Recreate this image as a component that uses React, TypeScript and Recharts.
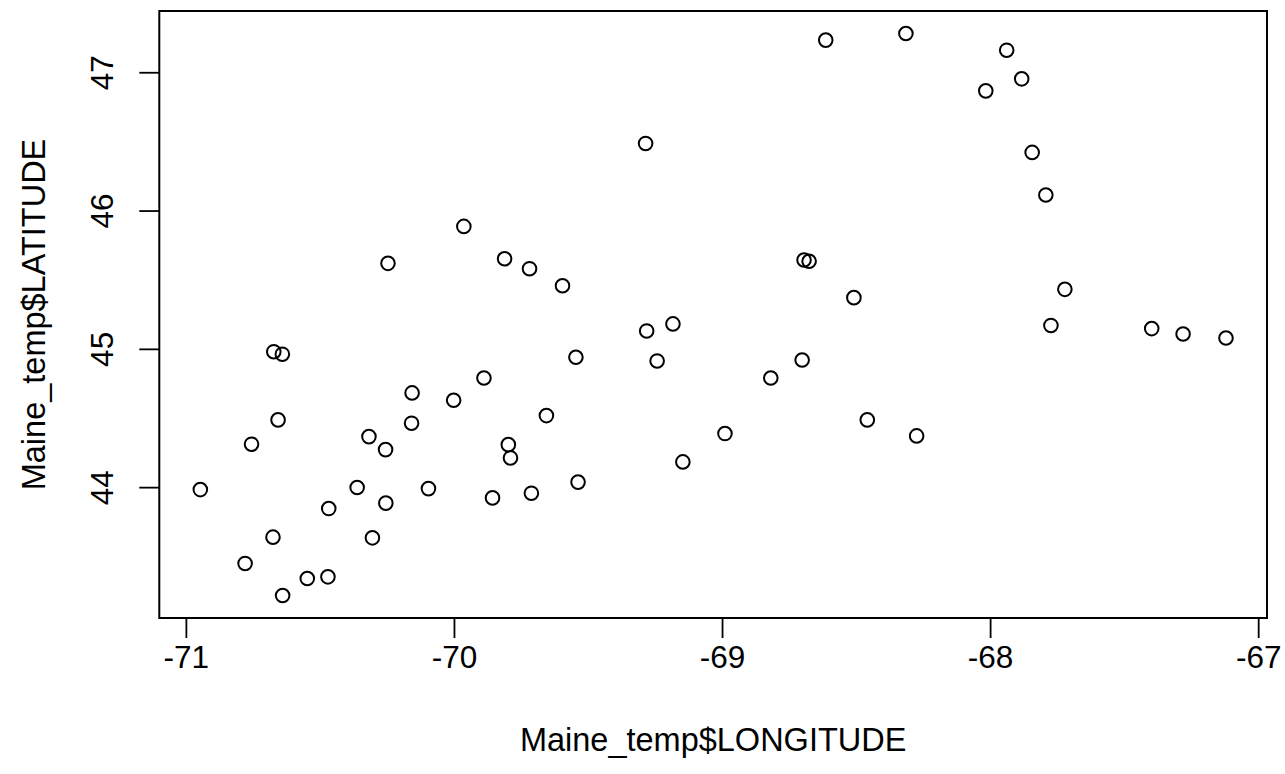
import { ScatterChart, Scatter, XAxis, YAxis, ReferenceArea, Label } from "recharts";

// Maine stations
const longitude = [
  -70.674, -70.642, -69.547, -69.89, -70.158, -70.003, -69.657, -70.658, -70.16, -70.757,
  -70.319, -70.257, -69.799, -69.791, -70.948, -70.363, -70.097, -69.539, -70.469, -70.256,
  -69.858, -69.713, -70.677, -70.306, -70.781, -70.549, -70.472, -70.641, -70.248, -69.965,
  -69.813, -69.72, -69.597, -68.615, -68.316, -69.287, -68.696, -68.677, -68.51, -67.94,
  -67.884, -68.018, -67.845, -67.794, -67.723, -69.283, -69.185, -69.244, -68.82, -68.703,
  -68.991, -69.148, -68.46, -68.276, -67.775, -67.399, -67.282, -67.122,
];
const latitude = [
  44.983, 44.965, 44.943, 44.793, 44.685, 44.632, 44.521, 44.49, 44.466, 44.314,
  44.369, 44.275, 44.311, 44.215, 43.986, 44.001, 43.993, 44.04, 43.849, 43.888,
  43.926, 43.96, 43.642, 43.637, 43.452, 43.343, 43.355, 43.22, 45.622, 45.889,
  45.655, 45.583, 45.46, 47.236, 47.284, 46.489, 45.646, 45.637, 45.374, 47.163,
  46.956, 46.869, 46.424, 46.116, 45.434, 45.133, 45.184, 44.916, 44.793, 44.923,
  44.391, 44.186, 44.49, 44.374, 45.173, 45.15, 45.111, 45.082,
];
const xTicks = [-71, -70, -69, -68, -67];
const yTicks = [44, 45, 46, 47];

const data = longitude.map((lon, i) => ({ lon, lat: latitude[i] }));

// R pads the data range by 4% each side
const pad = (vals: number[]): [number, number] => {
  const lo = Math.min(...vals);
  const hi = Math.max(...vals);
  const d = (hi - lo) * 0.04;
  return [lo - d, hi + d];
};
const xDomain = pad(longitude);
const yDomain = pad(latitude);

const FONT = "'Liberation Sans', Arial, Helvetica, sans-serif";
const FS = 31.5;
const TITLE_FS = 32.5;

const Ring = (props: any) => (
  <circle cx={props.cx} cy={props.cy} r={6.8} fill="none" stroke="#000" strokeWidth={2} />
);

const YTick = ({ y, payload }: any) => (
  <text
    x={113}
    y={y}
    transform={`rotate(-90, 113, ${y})`}
    textAnchor="middle"
    fontSize={FS}
    fontFamily={FONT}
    fill="#000"
  >
    {payload.value}
  </text>
);

const XTick = ({ x, y, payload }: any) => (
  <text x={x} y={y + 22} textAnchor="middle" fontSize={FS} fontFamily={FONT} fill="#000">
    {payload.value}
  </text>
);

export default function App() {
  return (
    <div style={{ position: "absolute", left: 0, top: 0, background: "#fff" }}>
      <ScatterChart
        width={1285}
        height={774}
        margin={{ top: 11, right: 18, bottom: 0, left: 0 }}
      >
        <XAxis
          type="number"
          dataKey="lon"
          domain={xDomain}
          ticks={xTicks}
          allowDataOverflow
          axisLine={false}
          tickLine={{ stroke: "#000", strokeWidth: 1.8 }}
          tickSize={20}
          tickMargin={8}
          height={156}
          tick={<XTick />}
        >
          <Label
            content={({ viewBox }: any) => (
              <text
                x={viewBox.x + viewBox.width / 2}
                y={viewBox.y + 133}
                textAnchor="middle"
                fontSize={TITLE_FS}
                fontFamily={FONT}
                fill="#000"
              >
                Maine_temp$LONGITUDE
              </text>
            )}
          />
        </XAxis>
        <YAxis
          type="number"
          dataKey="lat"
          domain={yDomain}
          ticks={yTicks}
          allowDataOverflow
          axisLine={false}
          tickLine={{ stroke: "#000", strokeWidth: 1.8 }}
          tickSize={20}
          width={159.3}
          tick={<YTick />}
        >
          <Label
            content={({ viewBox }: any) => {
              const cy = viewBox.y + viewBox.height / 2;
              return (
                <text
                  x={45}
                  y={cy}
                  transform={`rotate(-90, 45, ${cy})`}
                  textAnchor="middle"
                  fontSize={TITLE_FS}
                  fontFamily={FONT}
                  fill="#000"
                >
                  Maine_temp$LATITUDE
                </text>
              );
            }}
          />
        </YAxis>
        <ReferenceArea
          x1={xDomain[0]}
          x2={xDomain[1]}
          y1={yDomain[0]}
          y2={yDomain[1]}
          fill="none"
          stroke="#000"
          strokeWidth={2}
          ifOverflow="visible"
        />
        <Scatter data={data} shape={Ring} isAnimationActive={false} />
      </ScatterChart>
    </div>
  );
}
